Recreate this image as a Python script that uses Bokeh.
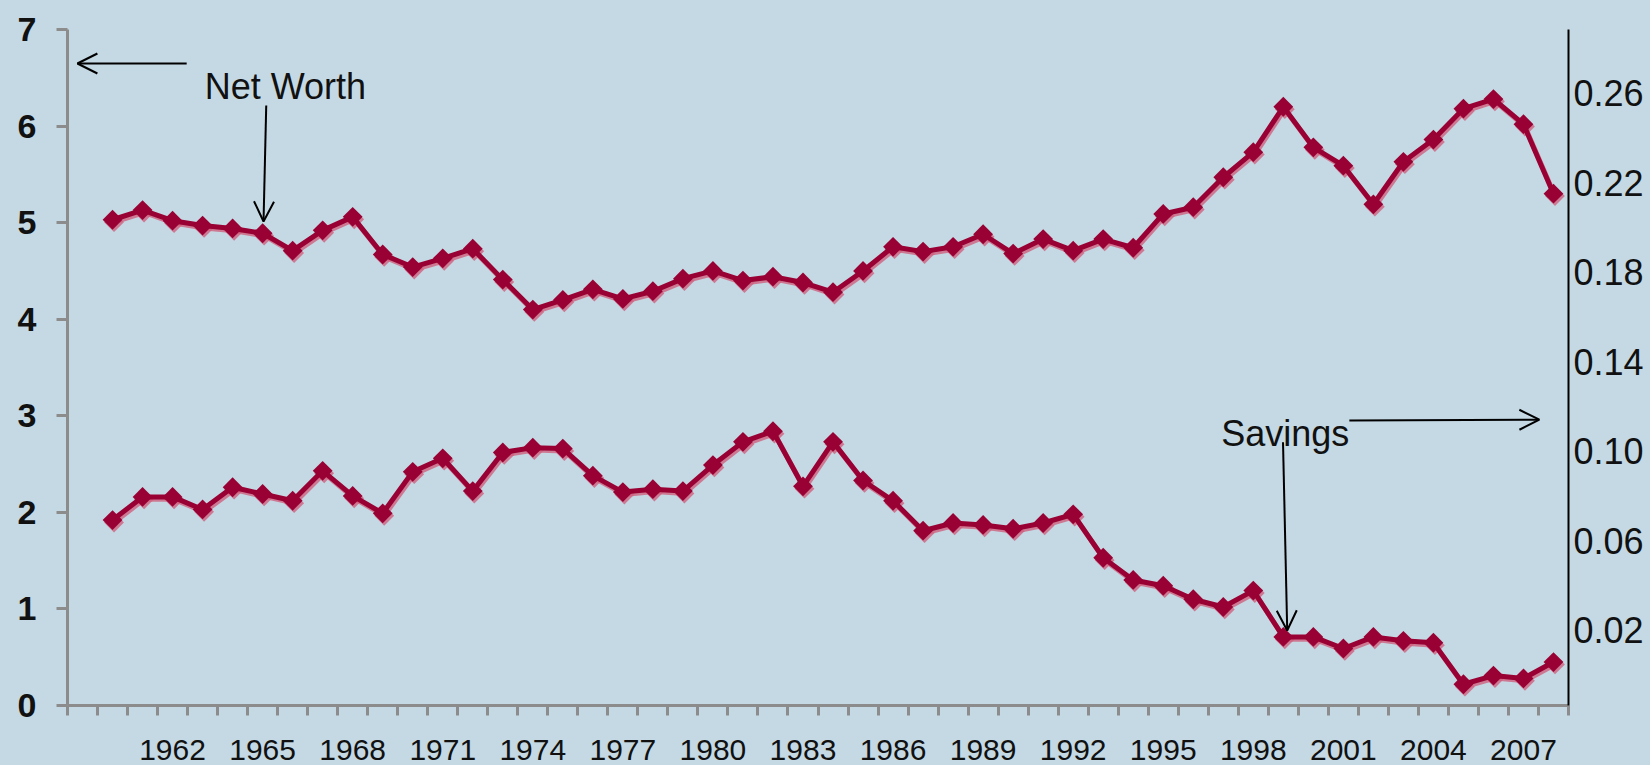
from bokeh.plotting import figure
from bokeh.models import (Range1d, LinearAxis, FixedTicker, Arrow, OpenHead, Label,
                          ColumnDataSource)
from bokeh.embed import file_html
from bokeh.resources import INLINE

# ---------------- data ----------------
years = list(range(1960, 2009))
net_worth = [5.03, 5.13, 5.02, 4.97, 4.94, 4.89, 4.71, 4.92, 5.06, 4.67,
             4.54, 4.63, 4.73, 4.41, 4.10, 4.20, 4.31, 4.21, 4.29, 4.42,
             4.50, 4.40, 4.44, 4.38, 4.28, 4.50, 4.75, 4.70, 4.75, 4.88,
             4.68, 4.83, 4.71, 4.83, 4.74, 5.09, 5.16, 5.47, 5.73, 6.20,
             5.78, 5.59, 5.19, 5.63, 5.86, 6.18, 6.28, 6.02, 5.30]
savings = [1.92, 2.16, 2.16, 2.03, 2.26, 2.19, 2.12, 2.43, 2.17, 1.99,
           2.42, 2.56, 2.22, 2.62, 2.67, 2.66, 2.38, 2.21, 2.24, 2.22,
           2.49, 2.73, 2.84, 2.27, 2.73, 2.33, 2.12, 1.81, 1.89, 1.87,
           1.83, 1.89, 1.98, 1.53, 1.30, 1.24, 1.10, 1.02, 1.19, 0.71,
           0.71, 0.59, 0.71, 0.67, 0.65, 0.22, 0.31, 0.28, 0.45]
left_ticks = [0, 1, 2, 3, 4, 5, 6, 7]
year_labels = [1962, 1965, 1968, 1971, 1974, 1977, 1980, 1983, 1986, 1989,
               1992, 1995, 1998, 2001, 2004, 2007]
right_ticks = [0.02, 0.06, 0.10, 0.14, 0.18, 0.22, 0.26]

BG = "#c4d9e4"
LINE = "#990033"
SHADOW = "#d0607e"
AXIS_GREY = "#8c8c8c"
FONT = "Liberation Sans"

p = figure(width=1650, height=765, output_backend="svg", toolbar_location=None,
           x_range=Range1d(1958.5, 2008.5), y_range=Range1d(0, 7),
           min_border_left=67, min_border_right=82, min_border_top=29,
           min_border_bottom=60)
p.background_fill_color = BG
p.border_fill_color = BG
p.outline_line_color = None
p.grid.visible = False

# ---- left axis ----
ya = p.yaxis[0]
ya.ticker = FixedTicker(ticks=left_ticks)
ya.axis_line_color = AXIS_GREY
ya.axis_line_width = 3
ya.major_tick_line_color = AXIS_GREY
ya.major_tick_line_width = 3
ya.major_tick_out = 11
ya.major_tick_in = 0
ya.minor_tick_line_color = None
ya.major_label_text_font = FONT
ya.major_label_text_font_size = "34px"
ya.major_label_text_font_style = "bold"
ya.major_label_text_color = "#111111"
ya.major_label_standoff = 20

# ---- bottom axis ----
xa = p.xaxis[0]
xa.ticker = FixedTicker(ticks=year_labels,
                        minor_ticks=[y - 0.5 for y in years] + [years[-1] + 0.5, years[0] - 1.5])
xa.axis_line_color = AXIS_GREY
xa.axis_line_width = 3
xa.major_tick_line_color = None
xa.major_tick_out = 0
xa.major_tick_in = 0
xa.minor_tick_line_color = AXIS_GREY
xa.minor_tick_line_width = 3
xa.minor_tick_out = 10
xa.minor_tick_in = 0
xa.major_label_text_font = FONT
xa.major_label_text_font_size = "30px"
xa.major_label_text_color = "#111111"
xa.major_label_standoff = 24

# ---- right axis ----
p.extra_y_ranges = {"right": Range1d(-0.0136, 0.2886)}
ra = LinearAxis(y_range_name="right", ticker=FixedTicker(ticks=right_ticks))
ra.major_label_overrides = {t: "%.2f" % t for t in right_ticks}
ra.axis_line_color = "black"
ra.axis_line_width = 2
ra.major_tick_line_color = None
ra.minor_tick_line_color = None
ra.major_tick_out = 0
ra.major_tick_in = 0
ra.major_label_text_font = FONT
ra.major_label_text_font_size = "36px"
ra.major_label_text_color = "#111111"
ra.major_label_standoff = 5
p.add_layout(ra, "right")

# ---- series (shadow then main) ----
src = ColumnDataSource(dict(year=years, nw=net_worth, sv=savings,
                            year_s=[y + 0.05 for y in years],
                            nw_s=[v - 0.025 for v in net_worth],
                            sv_s=[v - 0.025 for v in savings]))
for ycol in ("nw_s", "sv_s"):
    p.line("year_s", ycol, source=src, line_color=SHADOW, line_width=5, line_alpha=0.8)
    p.scatter("year_s", ycol, source=src, marker="square", angle=0.785398, size=14,
              fill_color=SHADOW, line_color=None, fill_alpha=0.8)
for ycol in ("nw", "sv"):
    p.line("year", ycol, source=src, line_color=LINE, line_width=5)
    p.scatter("year", ycol, source=src, marker="square", angle=0.785398, size=14,
              fill_color=LINE, line_color=None)

# ---- annotations ----
def arrow(x0, y0, x1, y1):
    p.add_layout(Arrow(end=OpenHead(size=20, line_width=2, line_color="black"),
                       x_start=x0, y_start=y0, x_end=x1, y_end=y1,
                       line_width=2, line_color="black"))

arrow(1962.47, 6.648, 1958.83, 6.648)
arrow(1965.12, 6.213, 1965.03, 5.012)
arrow(2001.2, 2.95, 2007.53, 2.96)
arrow(1998.99, 2.727, 1999.13, 0.777)

p.add_layout(Label(x=1963.07, y=6.41, text="Net Worth", text_font=FONT,
                   text_font_size="36px", text_color="#111111",
                   text_baseline="alphabetic"))
p.add_layout(Label(x=1996.93, y=2.82, text="Savings", text_font=FONT,
                   text_font_size="36px", text_color="#111111",
                   text_baseline="alphabetic"))

html = file_html(p, INLINE)
html = html.replace("<head>", "<head><style>html,body{background:%s;}</style>" % BG, 1)
open("out.html", "w").write(html)
